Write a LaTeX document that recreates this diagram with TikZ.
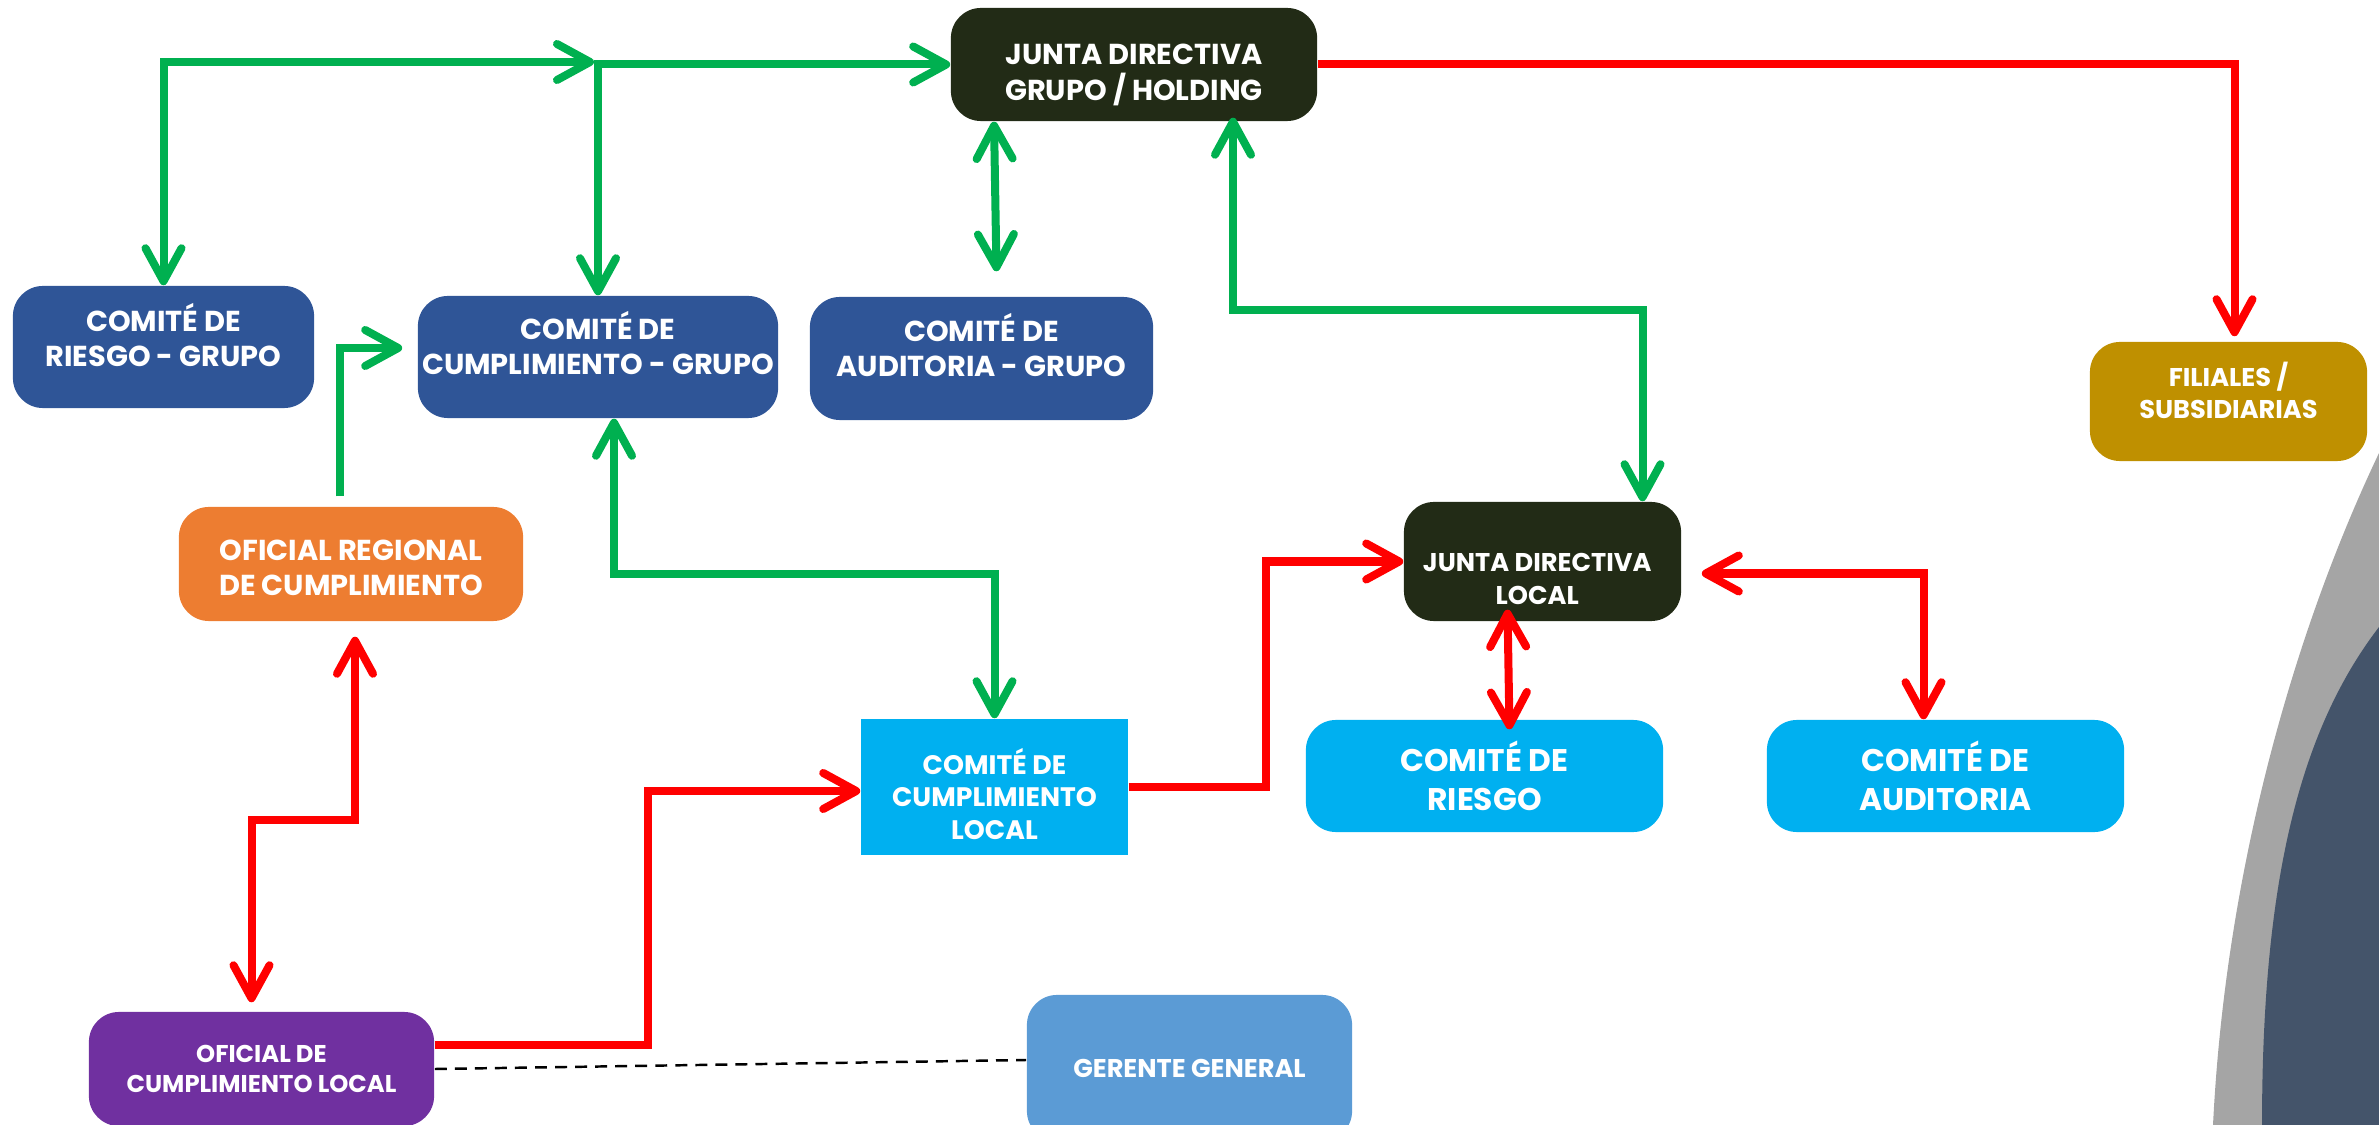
\documentclass[tikz,border=0pt]{standalone}
\usepackage{fontspec}
\setmainfont{Poppins}
\usetikzlibrary{positioning, calc, arrows.meta}

\definecolor{verde}{RGB}{0,176,80}
\definecolor{rojo}{RGB}{255,0,0}
\definecolor{junta}{RGB}{34,43,22}
\definecolor{azulgrupo}{RGB}{47,85,151}
\definecolor{celeste}{RGB}{0,176,240}
\definecolor{naranja}{RGB}{237,125,49}
\definecolor{morado}{RGB}{112,48,160}
\definecolor{gerente}{RGB}{91,155,213}
\definecolor{dorado}{RGB}{191,144,0}
\definecolor{gris}{RGB}{165,165,165}
\definecolor{pizarra}{RGB}{68,84,106}

\begin{document}
\begin{tikzpicture}[x=0.01cm, y=-0.01cm,
    >={Straight Barb[length=3.3mm, width=3.6mm, round]},
    caja/.style={rounded corners=3mm, inner sep=0pt},
    etq/.style={text=white, align=center, inner sep=0pt},
    txt/.style 2 args={font=\fontsize{#1}{#2}\selectfont\bfseries},
    verdeline/.style={draw=verde, line width=0.8mm},
    rojoline/.style={draw=rojo, line width=0.8mm}]

    \useasboundingbox (0,0) rectangle (2379,1125);
    \clip (0,0) rectangle (2379,1125);

    % decoration bottom right
    \fill[gris] (2379,453) .. controls (2290,640) and (2225,880) .. (2213,1125) -- (2379,1125) -- cycle;
    \fill[pizarra] (2379,627) .. controls (2300,730) and (2262,880) .. (2262,1125) -- (2379,1125) -- cycle;

    % group level
    \node[caja, fill=junta, minimum width=3.66cm, minimum height=1.13cm,
        label={[etq, txt={8.2}{10}, yshift=-3pt]center:JUNTA DIRECTIVA\\GRUPO / HOLDING}] (jgrupo) at (1134,64.5) {};
    \node[caja, fill=azulgrupo, minimum width=3.01cm, minimum height=1.22cm,
        label={[etq, txt={8.2}{10}, yshift=3.4pt]center:COMITÉ DE\\RIESGO - GRUPO}] (rgrupo) at (163.5,347) {};
    \node[caja, fill=azulgrupo, minimum width=3.60cm, minimum height=1.22cm,
        label={[etq, txt={8.2}{10}, yshift=4pt]center:COMITÉ DE\\CUMPLIMIENTO - GRUPO}] (cgrupo) at (598,357) {};
    \node[caja, fill=azulgrupo, minimum width=3.43cm, minimum height=1.23cm,
        label={[etq, txt={8.2}{10}, yshift=3.9pt]center:COMITÉ DE\\AUDITORIA - GRUPO}] (agrupo) at (981.5,358.5) {};
    \node[caja, fill=dorado, minimum width=2.77cm, minimum height=1.19cm,
        label={[etq, txt={7.3}{9}, yshift=3.2pt]center:FILIALES /\\SUBSIDIARIAS}] (filiales) at (2228.5,401.5) {};

    % local level
    \node[caja, fill=naranja, minimum width=3.44cm, minimum height=1.14cm,
        label={[etq, txt={8.2}{10}, yshift=-1.2pt]center:OFICIAL REGIONAL\\DE CUMPLIMIENTO}] (oreg) at (351,564) {};
    \node[caja, fill=morado, minimum width=3.45cm, minimum height=1.14cm,
        label={[etq, txt={6.9}{8.6}]center:OFICIAL DE\\CUMPLIMIENTO LOCAL}] (oloc) at (261.5,1069) {};
    \node[caja, rounded corners=0pt, fill=celeste, minimum width=2.67cm, minimum height=1.36cm,
        label={[etq, txt={7.6}{9.3}, yshift=-2pt]center:COMITÉ DE\\CUMPLIMIENTO\\LOCAL}] (cloc) at (994.5,787) {};
    \node[caja, fill=junta, minimum width=2.77cm, minimum height=1.19cm,
        label={[etq, txt={7.3}{9.5}, xshift=-1.5pt, yshift=-5pt]center:JUNTA DIRECTIVA\\LOCAL}] (jloc) at (1542.5,561.5) {};
    \node[caja, fill=celeste, minimum width=3.57cm, minimum height=1.12cm,
        label={[etq, txt={8.9}{11}]center:COMITÉ DE\\RIESGO}] (rloc) at (1484.5,776) {};
    \node[caja, fill=celeste, minimum width=3.57cm, minimum height=1.12cm,
        label={[etq, txt={8.9}{11}]center:COMITÉ DE\\AUDITORIA}] (aloc) at (1945.5,776) {};
    \node[caja, fill=gerente, minimum width=3.25cm, minimum height=1.46cm,
        label={[etq, txt={7.3}{9}]center:GERENTE GENERAL}] (gerente) at (1189.5,1068) {};

    % green connectors
    \coordinate (gtip) at (594,62);
    \draw[verdeline, <->] (rgrupo.north) |- (gtip);
    \draw[verdeline, <->] (cgrupo.north) |- (jgrupo.west);
    \draw[verdeline, ->] ($(oreg.north)+(-11,-10)$) |- ($(cgrupo.west)+(-15,-9)$);
    \draw[verdeline, <->] ($(jgrupo.south)+(-140,0)$) -- ($(agrupo.north)+(15,-25)$);
    \draw[verdeline, <->] ($(jgrupo.south)+(99,-4)$) -- ++(0,192) -| ($(jloc.north)+(100,0)$);
    \draw[verdeline, <->] ($(cgrupo.south)+(16,0)$) -- ++(0,155) -| (cloc.north);

    % red connectors
    \draw[rojoline, ->] (jgrupo.east) -| ($(filiales.north)+(6,-5)$);
    \draw[rojoline, <->] ($(oreg.south)+(4,15)$) -- ++(0,183) -| ($(oloc.north)+(-10,-9)$);
    \draw[rojoline, ->] ($(oloc.east)+(0,-24)$) -- ++(213,0) |- ($(cloc.west)+(0,4)$);
    \draw[rojoline, ->] (cloc.east) -- ++(137,0) |- (jloc.west);
    \draw[rojoline, <->] ($(jloc.south)+(-35,-12)$) -- ($(rloc.north)+(25,10)$);
    \draw[rojoline, <->] ($(jloc.east)+(20,12)$) -| ($(aloc.north)+(-22,0)$);

    % dashed link
    \draw[line width=0.7pt, dash pattern=on 3.4pt off 2.3pt] (oloc.east) -- ($(gerente.west)+(0,-8)$);

\end{tikzpicture}
\end{document}
